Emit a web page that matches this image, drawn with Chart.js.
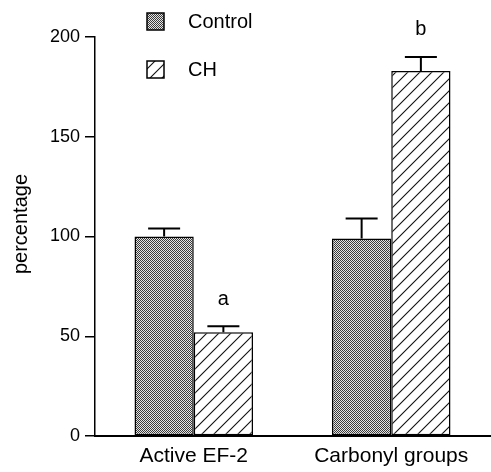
<!DOCTYPE html>
<html>
<head>
<meta charset="utf-8">
<script src="https://cdn.jsdelivr.net/npm/chart.js@4/dist/chart.umd.min.js"></script>
<style>
  html, body { margin: 0; padding: 0; background: #fff; }
  #wrap { width: 491px; height: 472px; }
</style>
</head>
<body>
<div id="wrap"><canvas id="bars"></canvas></div>
<script>
const categories = ["Active EF-2", "Carbonyl groups"];
const controlValues = [100, 99];
const chValues = [52, 183];
const controlErrors = [4, 10];
const chErrors = [3, 7];
const chLetters = ["a", "b"];
const seriesNames = ["Control", "CH"];

const FONT = "'Liberation Sans', Arial, Helvetica, sans-serif";

function stipple() {
    let c = document.createElement("canvas");
    c.width = c.height = 4;
    let g = c.getContext("2d");
    g.fillStyle = "#e4e4e4";
    g.fillRect(0, 0, 4, 4);
    g.fillStyle = "#3a3a3a";
    for (let x = 0; x < 4; x++)
        for (let y = 0; y < 4; y++)
            if ((x + y) % 2 == 0) g.fillRect(x, y, 1, 1);
    return g.createPattern(c, "repeat");
}

function hatch() {
    let s = 12;
    let c = document.createElement("canvas");
    c.width = c.height = s;
    let g = c.getContext("2d");
    g.fillStyle = "#fff";
    g.fillRect(0, 0, s, s);
    g.strokeStyle = "#111";
    g.lineWidth = 1.1;
    g.beginPath();
    g.moveTo(0, s); g.lineTo(s, 0);
    g.moveTo(-2, 2); g.lineTo(2, -2);
    g.moveTo(s - 2, s + 2); g.lineTo(s + 2, s - 2);
    g.stroke();
    return g.createPattern(c, "repeat");
}

let fills = [stipple(), hatch()];

// error bars, letters, legend and y title
const extras = {
    id: "extras",
    afterDatasetsDraw(chart) {
        let ctx = chart.ctx;
        let y = chart.scales.y;
        let errs = [controlErrors, chErrors];
        ctx.save();
        ctx.strokeStyle = "#000";
        ctx.lineWidth = 2;
        errs.forEach((e, di) => {
            let meta = chart.getDatasetMeta(di);
            meta.data.forEach((bar, i) => {
                let v = chart.data.datasets[di].data[i];
                let top = y.getPixelForValue(v + e[i]);
                ctx.beginPath();
                ctx.moveTo(bar.x, bar.y);
                ctx.lineTo(bar.x, top);
                ctx.moveTo(bar.x - 16, top);
                ctx.lineTo(bar.x + 16, top);
                ctx.stroke();
            });
        });

        ctx.fillStyle = "#000";
        ctx.font = "20px " + FONT;
        ctx.textAlign = "center";
        ctx.textBaseline = "middle";
        chart.getDatasetMeta(1).data.forEach((bar, i) => {
            let top = y.getPixelForValue(chValues[i] + chErrors[i]);
            ctx.fillText(chLetters[i], bar.x, top - 27);
        });

        // legend
        let rows = [21, 69];
        ctx.font = "20px " + FONT;
        ctx.textAlign = "left";
        seriesNames.forEach((name, i) => {
            ctx.fillStyle = fills[i];
            ctx.fillRect(147, rows[i] - 8, 17, 17);
            ctx.lineWidth = 1.5;
            ctx.strokeRect(147, rows[i] - 8, 17, 17);
            ctx.fillStyle = "#000";
            ctx.fillText(name, 188, rows[i] + 1);
        });

        // y title
        ctx.translate(21, 224);
        ctx.rotate(-Math.PI / 2);
        ctx.textAlign = "center";
        ctx.font = "20px " + FONT;
        ctx.fillText("percentage", 0, 0);
        ctx.restore();
    }
};

new Chart(document.getElementById("bars"), {
    type: "bar",
    data: {
        labels: categories,
        datasets: [{
            label: seriesNames[0],
            data: controlValues,
            backgroundColor: fills[0],
            borderColor: "#000",
            borderWidth: 1.5,
            borderSkipped: false
        }, {
            label: seriesNames[1],
            data: chValues,
            backgroundColor: fills[1],
            borderColor: "#000",
            borderWidth: 1.5,
            borderSkipped: false
        }]
    },
    options: {
        responsive: true,
        maintainAspectRatio: false,
        animation: false,
        layout: { padding: { top: 37, right: 1, left: 0, bottom: 0 } },
        datasets: { bar: { categoryPercentage: 0.6, barPercentage: 1 } },
        plugins: { legend: { display: false }, tooltip: { enabled: false } },
        scales: {
            x: {
                grid: { display: false, drawTicks: false },
                border: { color: "#000", width: 2 },
                ticks: { color: "#000", padding: 8, font: { family: FONT, size: 21 } },
                afterFit: s => { s.height = 36; }
            },
            y: {
                min: 0,
                max: 200,
                ticks: { stepSize: 50, color: "#000", padding: 5, font: { family: FONT, size: 18 } },
                grid: { drawOnChartArea: false, color: "#000", tickLength: 10, lineWidth: 1.5 },
                border: { color: "#000", width: 1.5 },
                afterFit: s => { s.width = 95; }
            }
        }
    },
    plugins: [extras]
});
</script>
</body>
</html>
